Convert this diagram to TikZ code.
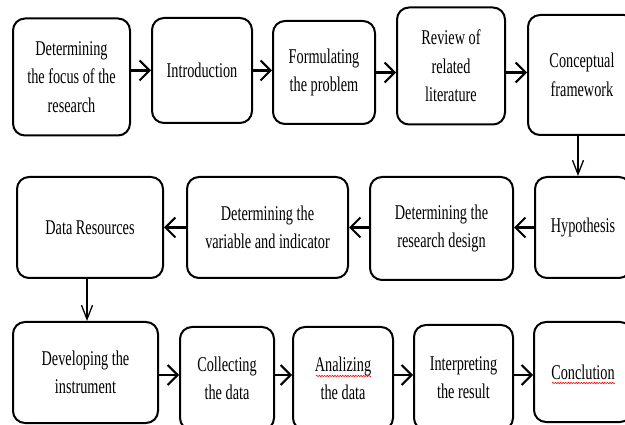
\documentclass[tikz,border=0pt]{standalone}
\usepackage{fontspec}
\setmainfont{Liberation Serif}[FakeStretch=0.68]
\usetikzlibrary{arrows.meta,decorations.pathmorphing}
\begin{document}
\begin{tikzpicture}[x=1pt,y=-1pt,
  box/.style={draw, line width=2pt, rounded corners=12pt, align=center,
    font=\fontsize{21}{28.5}\selectfont, inner sep=0pt},
  harrow/.style={line width=2.2pt, -{Straight Barb[length=10pt,width=20pt,line width=2pt]}},
  varrow/.style={line width=1.3pt, -{Straight Barb[length=14pt,width=11pt,line width=1.3pt]}},
  spell/.style={red, line width=0.6pt, decorate, decoration={snake, amplitude=0.7pt, segment length=2.6pt}}]
\path[use as bounding box, clip] (0,0) rectangle (625,425);
% row 1
\node[box, minimum width=117pt, minimum height=117pt] (A) at (71.5,77) {Determining\\the focus of the\\research};
\node[box, minimum width=100pt, minimum height=105pt] (B) at (202,70.5) {Introduction};
\node[box, minimum width=102pt, minimum height=103pt] (C) at (324,72.5) {Formulating\\the problem};
\node[box, minimum width=108pt, minimum height=117pt] (D) at (451,66) {Review of\\related\\literature};
\node[box, minimum width=108pt, minimum height=120pt] (E) at (582,75) {Conceptual\\framework};
% row 2
\node[box, minimum width=146pt, minimum height=101pt] (F) at (90,227.5) {Data Resources};
\node[box, minimum width=161pt, minimum height=101pt] (G) at (267.5,227.5) {Determining the\\variable and indicator};
\node[box, minimum width=143pt, minimum height=103pt] (Hd) at (441.5,228.5) {Determining the\\research design};
\node[box, minimum width=96pt, minimum height=101pt] (H) at (583,227.5) {Hypothesis};
% row 3
\node[box, minimum width=145pt, minimum height=101pt] (I) at (85.5,372.5) {Developing the\\instrument};
\node[box, minimum width=94pt, minimum height=103pt] (J) at (227,378.5) {Collecting\\the data};
\node[box, minimum width=100pt, minimum height=103pt] (K) at (343,378.5) {Analizing\\the data};
\node[box, minimum width=99pt, minimum height=105pt] (L) at (463.5,377.5) {Interpreting\\the result};
\node[box, minimum width=98pt, minimum height=100pt] (M) at (583,372) {Conclution};
% spell-check underlines
\draw[spell] (316,376) -- (371,376);
\draw[spell] (552,383) -- (615,383);
% arrows row 1
\draw[harrow] (A.east |- B.west) -- (B.west);
\draw[harrow] (B.east) -- (B.east -| C.west);
\draw[harrow] (C.east) -- (C.east -| D.west);
\draw[harrow] (C.east -| D.east) -- (C.east -| E.west);
\draw[varrow] ([xshift=-4pt]E.south) -- ([xshift=-4pt]E.south |- H.north);
% arrows row 2
\draw[harrow] (H.west |- F.east) -- (Hd.east |- F.east);
\draw[harrow] (Hd.west |- F.east) -- (G.east |- F.east);
\draw[harrow] (G.west |- F.east) -- (F.east);
\draw[varrow] ([xshift=-3pt]F.south) -- ([xshift=-3pt]F.south |- I.north);
% arrows row 3
\draw[harrow] (I.east |- 0,375) -- (J.west |- 0,375);
\draw[harrow] (J.east |- 0,375) -- (K.west |- 0,375);
\draw[harrow] (K.east |- 0,375) -- (L.west |- 0,375);
\draw[harrow] (L.east |- 0,375) -- (M.west |- 0,375);
\end{tikzpicture}
\end{document}
